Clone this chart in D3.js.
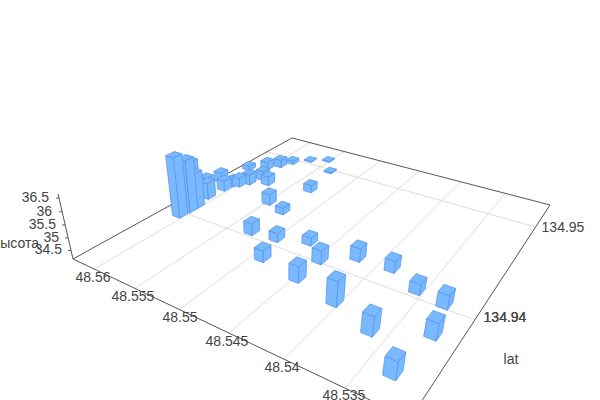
<!DOCTYPE html><html><head><meta charset="utf-8"><script src="https://cdn.jsdelivr.net/npm/d3@7"></script>
<style>html,body{margin:0;background:#fff}svg{display:block}text{font-family:"Liberation Sans",Arial,sans-serif;font-size:14px;fill:#444}</style></head><body><svg id="c" width="600" height="400"></svg><script>
const lonValues=[48.5526,48.5499,48.5470,48.5490,48.5446,48.5420,48.5387,48.5356,48.5447,48.5404,48.5364,48.5330,48.5330,48.5323,48.5528,48.5525,48.5548,48.5535,48.5553,48.5571,48.5585,48.5592,48.5601,48.5576,48.5588,48.5617,48.5594,48.5600,48.5606,48.5607,48.5623,48.5609,48.5620,48.5606,48.5605,48.5613,48.5605];
const latValues=[134.9405,134.9407,134.9414,134.9387,134.9402,134.9415,134.9416,134.9406,134.9382,134.9376,134.9367,134.9349,134.9403,134.9380,134.9467,134.9434,134.9439,134.9498,134.9513,134.9506,134.9496,134.9487,134.9479,134.9460,134.9464,134.9471,134.9454,134.9448,134.9446,134.9438,134.9446,134.9424,134.9430,134.9397,134.9405,134.9413,134.9411];
const heightValues=[34.64,34.52,34.48,34.62,34.70,34.70,34.63,34.59,34.80,35.13,34.90,34.82,34.70,34.80,34.48,34.44,34.64,34.20,34.19,34.19,34.30,34.50,34.50,34.55,34.57,34.35,34.62,34.55,34.46,34.62,34.60,34.86,34.80,36.65,36.35,36.00,35.65];
const lonTicks=[48.56,48.555,48.55,48.545,48.54,48.535];
const latTicks=[134.95,134.94];
const heightTicks=[34.5,35,35.5,36,36.5];
const lonS=d3.scaleLinear().domain([48.5628,48.5303]).range([0,1]);
const latS=d3.scaleLinear().domain([134.9331,134.9532]).range([0,1]);
const zS=d3.scaleLinear().domain([34.15,36.65]).range([0,1]);
// camera: projective map from the unit box to the screen
const a=218.3,b=354.3,c=73,d=38.7,e=-57.1,f=259,g=-.2895,h=.4633,k=-.0666,V=[282,1170];
function P(s,t,z){const w=g*s+h*t+1,X=a*s+b*t+c,Y=d*s+e*t+f,W=w+k*z;return [(X+k*z*V[0])/W,(Y+k*z*V[1])/W]}
const svg=d3.select("#c"),line=d3.line();
const seg=(p,q,col)=>svg.append("path").attr("d",line([p,q])).attr("stroke",col).attr("fill","none").attr("stroke-width",1);
lonTicks.forEach(v=>seg(P(lonS(v),0,0),P(lonS(v),1,0),"#ddd"));
latTicks.forEach(v=>seg(P(0,latS(v),0),P(1,latS(v),0),"#ddd"));
[[0,0,0,1],[0,0,1,0],[1,0,1,1],[0,1,1,1]].forEach(q=>seg(P(q[0],q[1],0),P(q[2],q[3],0),"#555"));
seg(P(0,0,0),P(0,0,1),"#555");
heightTicks.forEach(v=>{const p=P(0,0,zS(v));seg(p,[p[0]-3,p[1]],"#555")});
const ds=.03,dt=.034;
const bars=lonValues.map((l,i)=>({s:lonS(l),t:latS(latValues[i]),z:zS(heightValues[i])})).sort((p,q)=>(g*q.s+h*q.t)-(g*p.s+h*p.t));
bars.forEach(o=>{const s0=o.s-ds/2,s1=o.s+ds/2,t0=o.t-dt/2,t1=o.t+dt/2;
[[[s1,t0,0],[s1,t1,0],[s1,t1,o.z],[s1,t0,o.z]],[[s0,t0,0],[s1,t0,0],[s1,t0,o.z],[s0,t0,o.z]],[[s0,t0,o.z],[s1,t0,o.z],[s1,t1,o.z],[s0,t1,o.z]]].forEach(q=>svg.append("path").attr("d",line(q.map(v=>P(...v)))+"Z").attr("fill","#78b9ff").attr("stroke","#5a96ee").attr("stroke-width",.8).attr("stroke-linejoin","round"))});
const label=(x,y,t,anchor)=>svg.append("text").attr("x",x).attr("y",y).attr("text-anchor",anchor).attr("dominant-baseline","middle").text(t);
const hEnds=[[62,250],[59,238],[56,225],[52,212],[49,198]];
heightTicks.forEach((v,i)=>label(hEnds[i][0],hEnds[i][1],String(v),"end"));
const lonPos=[[93,278],[133,297],[180,318],[227,342],[282,368],[344,396]];
lonTicks.forEach((v,i)=>label(lonPos[i][0],lonPos[i][1],String(v),"middle"));
label(563,228,"134.95","middle");
label(505,318,"134.94","middle");label(505,318,"134.94","middle");
label(39,244,"высота","end");
label(511,360,"lat","middle");
</script></body></html>
